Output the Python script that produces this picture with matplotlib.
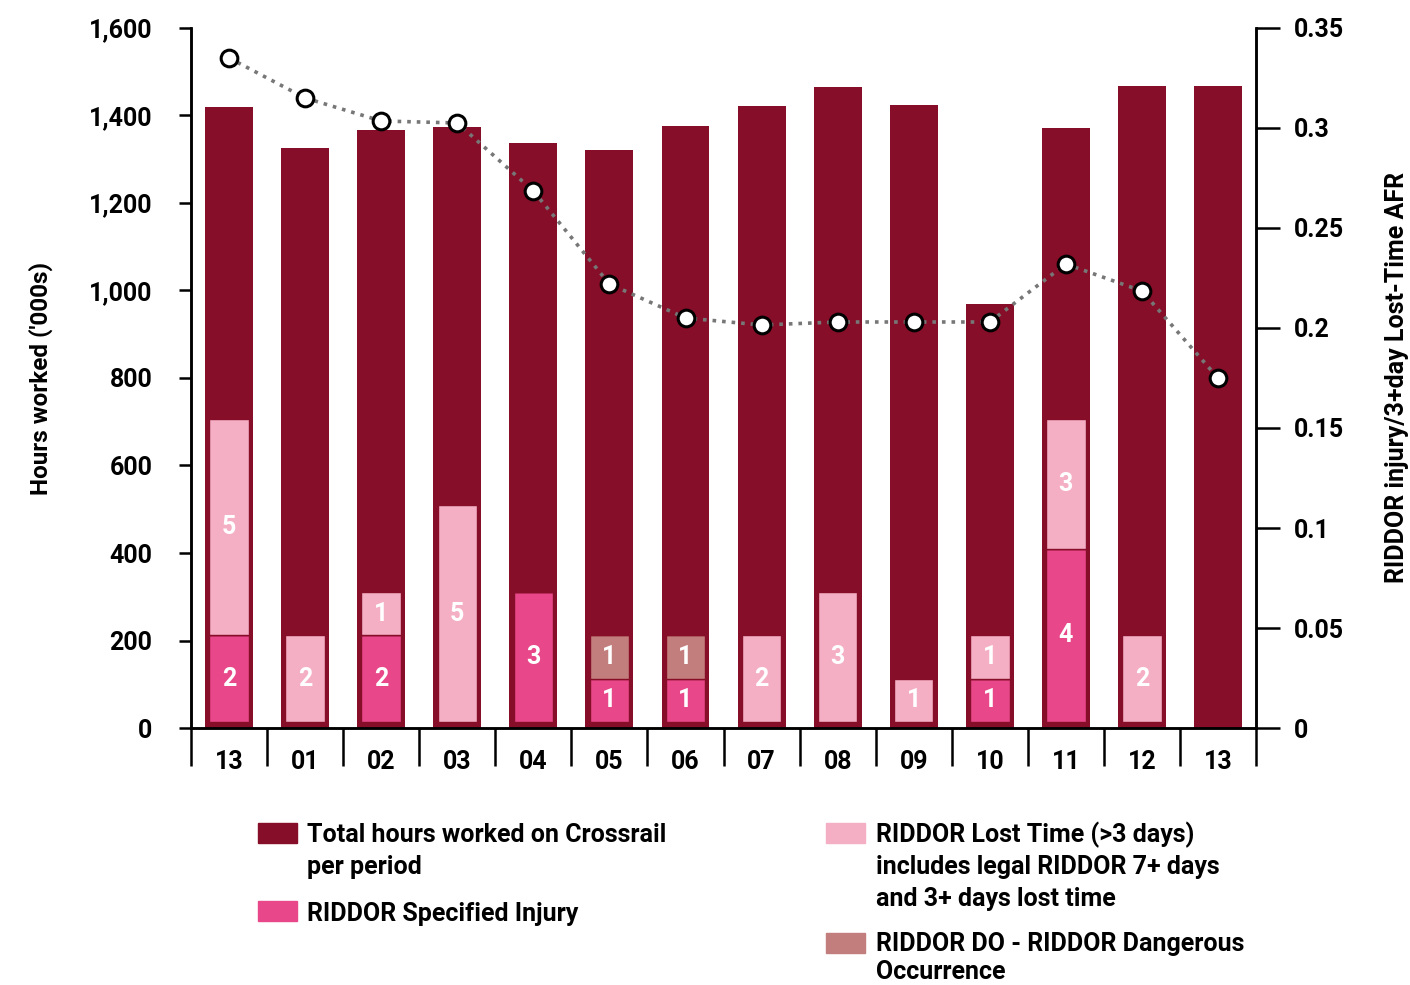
import numpy as np
import matplotlib
matplotlib.use("Agg")
import matplotlib.pyplot as plt
from matplotlib.patches import Rectangle
from matplotlib.ticker import FuncFormatter, FixedLocator

plt.rcParams['font.family'] = ['Roboto', 'DejaVu Sans']
plt.rcParams['font.weight'] = 'bold'
plt.rcParams['axes.labelweight'] = 'bold'

periods = ['13', '01', '02', '03', '04', '05', '06', '07', '08', '09', '10', '11', '12', '13']
hours = [1419, 1326, 1367, 1374, 1337, 1321, 1376, 1422, 1465, 1424, 969, 1371, 1467, 1467]
afr = [0.335, 0.315, 0.3035, 0.3025, 0.2685, 0.222, 0.205, 0.2015, 0.203, 0.203, 0.203, 0.232, 0.2185, 0.175]
specified = [2, 0, 2, 0, 3, 1, 1, 0, 0, 0, 1, 4, 0, 0]
dangerous = [0, 0, 0, 0, 0, 1, 1, 0, 0, 0, 0, 0, 0, 0]
lost_time = [5, 2, 1, 5, 0, 0, 0, 2, 3, 1, 1, 3, 2, 0]

MAROON = '#870e28'
SPEC = '#e8488a'
LOST = '#f4afc4'
DO = '#c27e7c'

unit = 99       # hours-axis height per incident
base = 14       # incident bars sit just above the axis

fig = plt.figure(figsize=(14.1, 9.85), dpi=100)
ax = fig.add_axes([0.1355, 0.2609, 0.7553, 0.7107])
ax2 = ax.twinx()

x = np.arange(len(periods))
ax.bar(x, hours, width=0.63, color=MAROON, zorder=2)

bottom = np.full(len(x), float(base))
for counts, col in [(specified, SPEC), (dangerous, DO), (lost_time, LOST)]:
    c = np.array(counts)
    h = c * unit
    ax.bar(x, h, width=0.52, bottom=bottom, color=col, edgecolor=MAROON,
           linewidth=1.0, zorder=3)
    for xi, ci, b, hi in zip(x, c, bottom, h):
        if ci > 0:
            ax.text(xi, b + hi / 2, str(ci), ha='center', va='center',
                    color='white', fontsize=18, fontweight='bold', zorder=4)
    bottom = bottom + h

ax2.plot(x, afr, linestyle=':', color='#777777', linewidth=2.6, zorder=5)
ax2.plot(x, afr, linestyle='none', marker='o', markersize=12,
         markerfacecolor='white', markeredgecolor='black', markeredgewidth=2.2, zorder=6)

ax.set_xlim(-0.5, len(x) - 0.5)
ax.set_ylim(0, 1600)
ax2.set_ylim(0, 0.35)

ax.set_yticks(np.arange(0, 1601, 200))
ax.yaxis.set_major_formatter(FuncFormatter(lambda v, p: f"{int(v):,}"))
ax2.set_yticks([0, 0.05, 0.1, 0.15, 0.2, 0.25, 0.3, 0.35])
ax2.yaxis.set_major_formatter(FuncFormatter(lambda v, p: f"{v:g}"))

ax.set_xticks(x)
ax.set_xticklabels(periods)
ax.xaxis.set_minor_locator(FixedLocator(np.arange(-0.5, len(x), 1.0)))
ax.tick_params(axis='x', which='major', length=0, pad=16, labelsize=18)
ax.tick_params(axis='x', which='minor', length=27, width=1.8, direction='out')
ax.tick_params(axis='y', length=9, width=1.8, pad=19, labelsize=18)
ax2.tick_params(axis='y', length=17, width=1.8, pad=10, labelsize=18)

for a in (ax, ax2):
    a.spines['top'].set_visible(False)
    for s in ('left', 'right', 'bottom'):
        a.spines[s].set_linewidth(1.8)

ax.set_ylabel("Hours worked ('000s)", fontsize=17.5, labelpad=26)
ax2.set_ylabel("RIDDOR injury/3+day Lost-Time AFR", fontsize=18, labelpad=30)

# legend drawn by hand in figure pixels
W, H = 1410, 985


def swatch(px, py, col):
    fig.add_artist(Rectangle((px / W, 1 - (py + 20) / H), 39 / W, 20 / H,
                             transform=fig.transFigure, color=col))


def label(px, baselines, lines):
    for by, txt in zip(baselines, lines):
        fig.text(px / W, 1 - by / H, txt, fontsize=18, fontweight='bold',
                 va='baseline', ha='left')


swatch(258, 823, MAROON)
label(307, [842, 874], ["Total hours worked on Crossrail", "per period"])
swatch(258, 901, SPEC)
label(307, [921], ["RIDDOR Specified Injury"])
swatch(826, 823, LOST)
label(876, [842, 874, 906], ["RIDDOR Lost Time (>3 days)",
                             "includes legal RIDDOR 7+ days",
                             "and 3+ days lost time"])
swatch(826, 933, DO)
label(876, [951, 979], ["RIDDOR DO - RIDDOR Dangerous", "Occurrence"])

fig.savefig("out.png", dpi=100)
